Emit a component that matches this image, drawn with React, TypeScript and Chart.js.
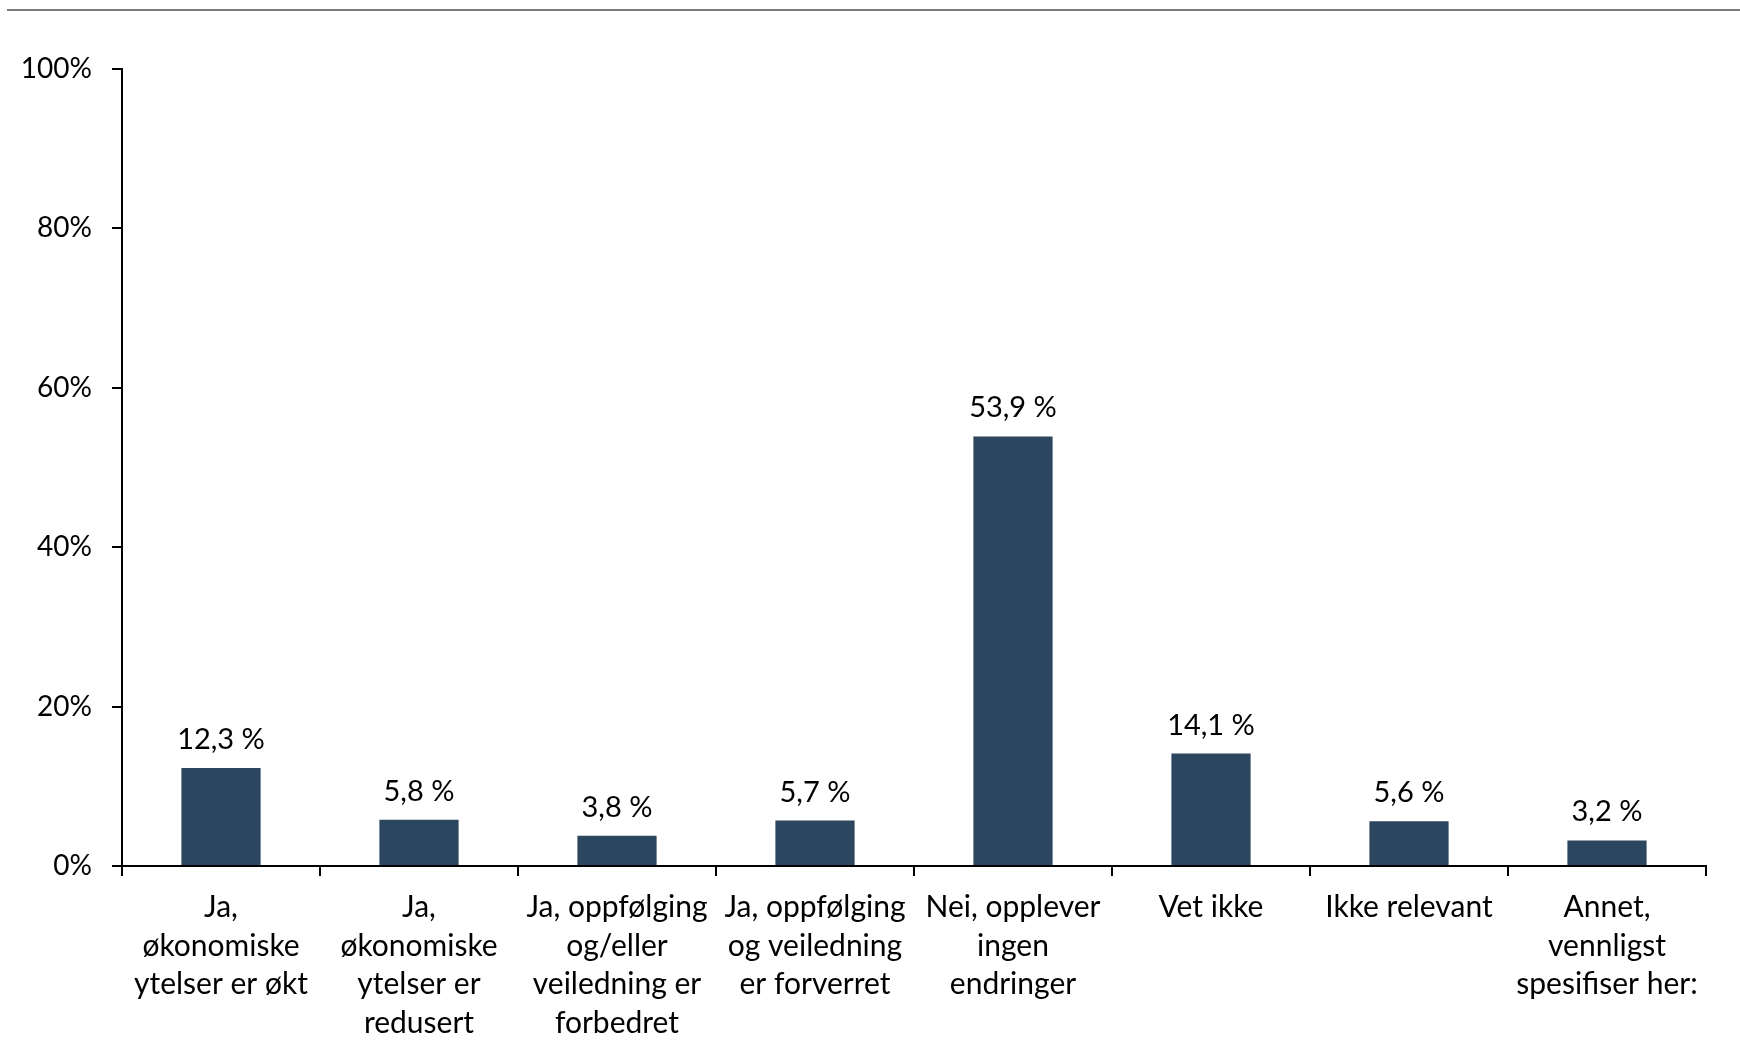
import React, { useEffect, useRef } from "react";
import { Chart, registerables } from "chart.js";

Chart.register(...registerables);

const categories: (string | string[])[] = [
  ["Ja,", "økonomiske", "ytelser er økt"],
  ["Ja,", "økonomiske", "ytelser er", "redusert"],
  ["Ja, oppfølging", "og/eller", "veiledning er", "forbedret"],
  ["Ja, oppfølging", "og veiledning", "er forverret"],
  ["Nei, opplever", "ingen", "endringer"],
  "Vet ikke",
  "Ikke relevant",
  ["Annet,", "vennligst", "spesifiser her:"],
];
const values = [12.3, 5.8, 3.8, 5.7, 53.9, 14.1, 5.6, 3.2];
const yTicks = [0, 20, 40, 60, 80, 100];

const FONT = "Lato, 'Open Sans', sans-serif";
const BAR_COLOR = "#2D465F";

const valueLabelPlugin = {
  id: "valueLabels",
  afterDatasetsDraw(chart: any) {
    const ctx = chart.ctx;
    const meta = chart.getDatasetMeta(0);
    ctx.save();
    ctx.font = `29px ${FONT}`;
    ctx.fillStyle = "#000000";
    ctx.textAlign = "center";
    ctx.textBaseline = "alphabetic";
    meta.data.forEach((bar: any, i: number) => {
      const txt = values[i].toFixed(1).replace(".", ",") + " %";
      ctx.fillText(txt, bar.x, bar.y - 19);
    });
    ctx.restore();
  },
};

export default function App() {
  const ref = useRef<HTMLCanvasElement>(null);
  useEffect(() => {
    document.body.style.margin = "0";
    const chart = new Chart(ref.current!, {
      type: "bar",
      data: {
        labels: categories,
        datasets: [
          {
            data: values,
            backgroundColor: BAR_COLOR,
            barPercentage: 0.4,
            categoryPercentage: 1,
          },
        ],
      },
      options: {
        animation: false,
        responsive: false,
        devicePixelRatio: 1,
        layout: { padding: { top: 69, right: 34, left: 0, bottom: 0 } },
        plugins: { legend: { display: false }, tooltip: { enabled: false } },
        scales: {
          x: {
            grid: {
              display: true,
              drawOnChartArea: false,
              drawTicks: true,
              tickLength: 10,
              color: "#000000",
              lineWidth: 2,
              offset: true,
            },
            border: { display: true, color: "#000000", width: 2 },
            ticks: {
              autoSkip: false,
              maxRotation: 0,
              minRotation: 0,
              padding: 12,
              color: "#000000",
              font: { family: FONT, size: 30, lineHeight: 1.29 },
            },
            afterFit: (s: any) => {
              s.height = 190;
            },
          },
          y: {
            min: 0,
            max: 100,
            afterBuildTicks: (s: any) => {
              s.ticks = yTicks.map((v) => ({ value: v }));
            },
            grid: {
              display: true,
              drawOnChartArea: false,
              drawTicks: true,
              tickLength: 10,
              color: "#000000",
              lineWidth: 2,
            },
            border: { display: true, color: "#000000", width: 2 },
            ticks: {
              padding: 20,
              color: "#000000",
              font: { family: FONT, size: 28 },
              callback: (v: any) => v + "%",
            },
            afterFit: (s: any) => {
              s.width = 122;
            },
          },
        },
      },
      plugins: [valueLabelPlugin],
    });
    return () => chart.destroy();
  }, []);
  return (
    <div style={{ position: "relative", width: 1740, height: 1056, background: "#fff" }}>
      <div
        style={{
          position: "absolute",
          top: 9,
          left: 7,
          right: 0,
          height: 2,
          background: "#7a7a7a",
        }}
      />
      <canvas ref={ref} width={1740} height={1056} style={{ display: "block" }} />
    </div>
  );
}
